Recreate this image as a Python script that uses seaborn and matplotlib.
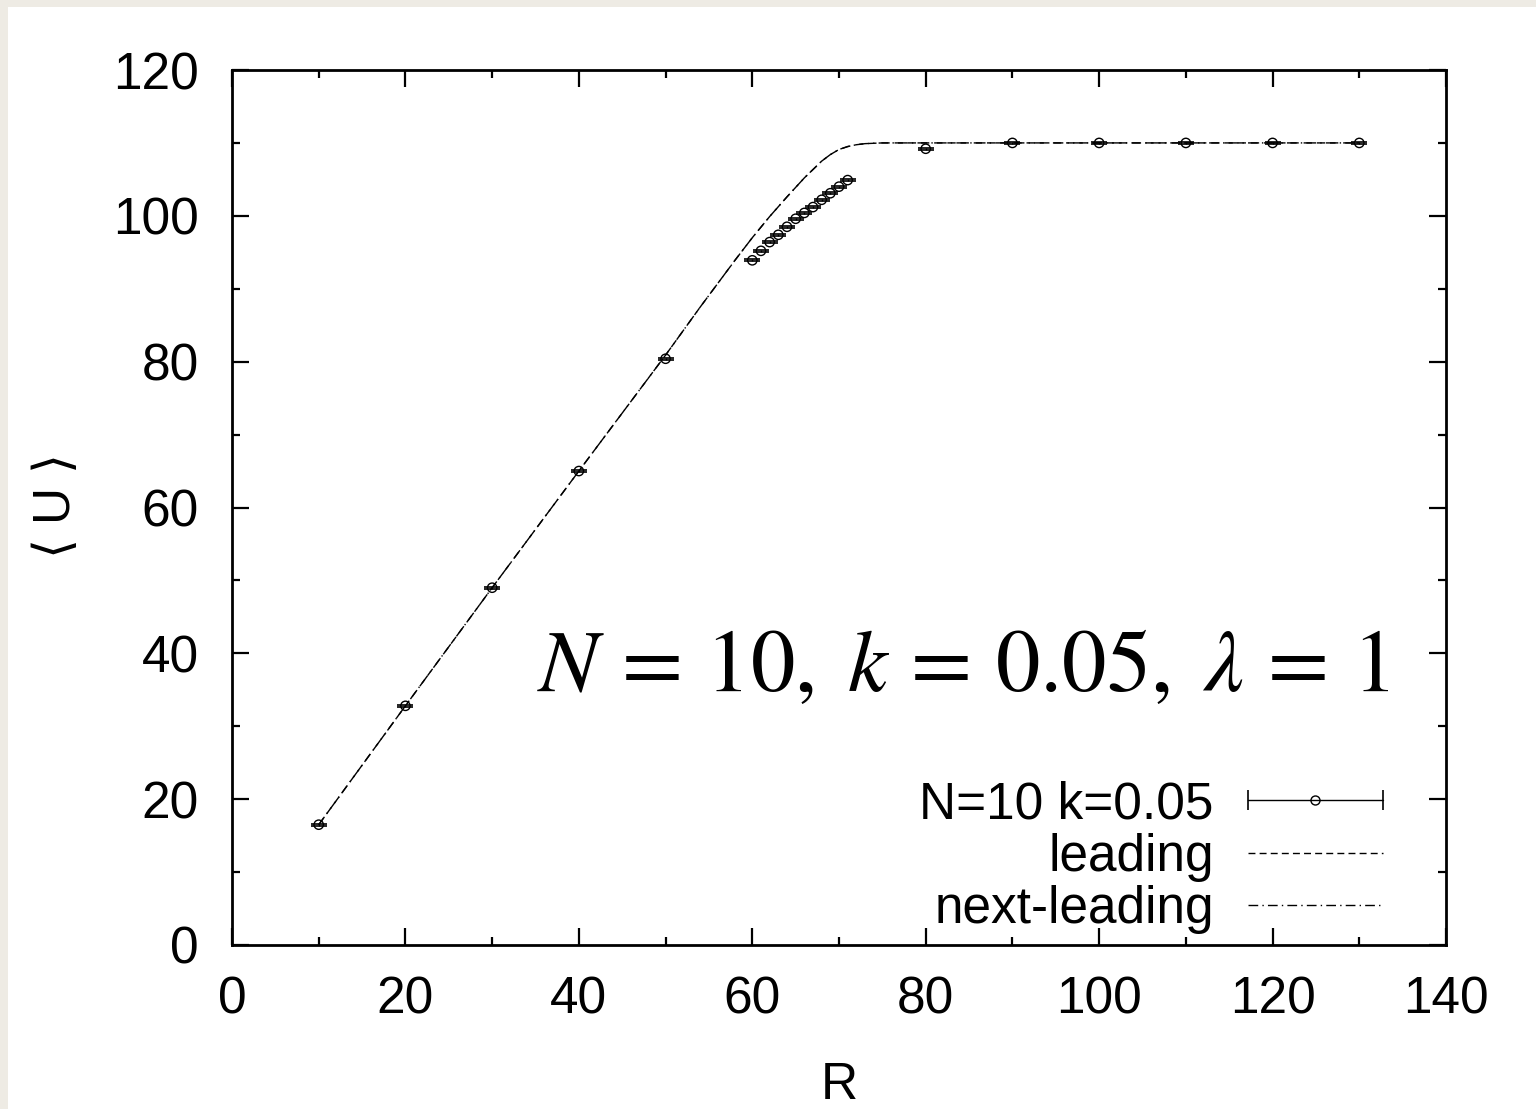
import numpy as np
import pandas as pd
import matplotlib
matplotlib.use("Agg")
import matplotlib.pyplot as plt
from matplotlib.lines import Line2D
from matplotlib.legend_handler import HandlerLine2D, HandlerTuple
from matplotlib.ticker import MultipleLocator
import seaborn as sns

# Monte Carlo data: N=10, k=0.05
R_data = [10, 20, 30, 40, 50, 60, 61, 62, 63, 64, 65, 66, 67, 68, 69, 70, 71,
          80, 90, 100, 110, 120, 130]
U_data = [16.5, 32.8, 49.0, 65.0, 80.4, 93.9, 95.2, 96.4, 97.4, 98.5, 99.6,
          100.4, 101.2, 102.2, 103.1, 104.0, 104.9, 109.2, 110.0, 110.0,
          110.0, 110.0, 110.0]
U_err = [0.15] * len(R_data)

# Analytic curves: leading and next-leading order
R_curve = [10, 20, 30, 40, 50, 54, 58, 60, 62, 64, 66, 68, 69, 70, 71, 72, 73,
           75, 80, 90, 100, 110, 120, 130]
U_leading = [16.5, 32.8, 49.0, 65.0, 80.9, 87.5, 93.9, 97.0, 99.9, 102.6,
             105.2, 107.5, 108.4, 109.1, 109.5, 109.75, 109.9, 110.0, 110.0,
             110.0, 110.0, 110.0, 110.0, 110.0]
U_next = [16.5, 32.8, 49.0, 65.0, 80.9, 87.5, 93.9, 97.0, 99.9, 102.6,
          105.2, 107.5, 108.4, 109.1, 109.5, 109.75, 109.9, 110.0, 110.0,
          110.0, 110.0, 110.0, 110.0, 110.0]

x_ticks = [0, 20, 40, 60, 80, 100, 120, 140]
y_ticks = [0, 20, 40, 60, 80, 100, 120]

sns.set_style("ticks")
plt.rcParams["font.family"] = ["Liberation Sans", "DejaVu Sans"]
plt.rcParams["mathtext.fontset"] = "dejavusans"
for key in ["text.color", "axes.labelcolor", "xtick.color", "ytick.color",
            "axes.edgecolor"]:
    plt.rcParams[key] = "black"

fig = plt.figure(figsize=(15.36, 11.09), dpi=100)
fig.patch.set_facecolor("white")
# paper-like margin strips along the top and left edges
fig.patches.append(plt.Rectangle((0, 0), 8 / 1536, 1, transform=fig.transFigure,
                                 facecolor="#eeebe4", edgecolor="none", zorder=-5))
fig.patches.append(plt.Rectangle((0, 1 - 7 / 1109), 1, 7 / 1109,
                                 transform=fig.transFigure, facecolor="#eeebe4",
                                 edgecolor="none", zorder=-5))

ax = fig.add_axes([232 / 1536, 1 - 945 / 1109, (1446 - 232) / 1536, (945 - 70) / 1109])

curves = pd.DataFrame({"R": R_curve, "lead": U_leading, "next": U_next})
sns.lineplot(data=curves, x="R", y="lead", ax=ax, color="black", lw=1.0,
             linestyle=(0, (6, 3.5)), zorder=2)
sns.lineplot(data=curves, x="R", y="next", ax=ax, color="black", lw=1.0,
             linestyle=(0, (7, 3, 1, 3)), zorder=2)

ax.errorbar(R_data, U_data, yerr=U_err, fmt="none", ecolor="black",
            elinewidth=1.0, capsize=5.5, capthick=1.2, zorder=3)
sns.scatterplot(x=R_data, y=U_data, ax=ax, marker="o", s=45,
                facecolor="none", edgecolor="black", linewidth=1.0, zorder=4)

ax.set_xlim(0, 140)
ax.set_ylim(0, 120)
ax.set_xticks(x_ticks)
ax.set_yticks(y_ticks)
ax.xaxis.set_minor_locator(MultipleLocator(10))
ax.yaxis.set_minor_locator(MultipleLocator(10))
ax.tick_params(which="both", direction="in", top=True, right=True,
               width=1.6, labelsize=37)
ax.tick_params(axis="x", which="major", pad=22)
ax.tick_params(axis="y", which="major", pad=24)
ax.tick_params(which="major", length=12)
ax.tick_params(which="minor", length=6)
for s in ax.spines.values():
    s.set_linewidth(2.0)
    s.set_visible(True)

ax.set_xlabel("R", fontsize=37, labelpad=26)
ax.set_ylabel(r"$\langle$ U $\rangle$", fontsize=37, labelpad=23)

ax.text(0.602, 0.317, r"$N\,=\,10,\;k\,=\,0.05,\;\lambda\,=\,1$",
        transform=ax.transAxes, ha="center", va="center",
        fontsize=64, math_fontfamily="stix")

# legend: labels on the left, right-aligned, samples to the right
cap_line = Line2D([], [], color="black", lw=1.0, marker="|", markersize=14,
                  markeredgewidth=1.2)
dot = Line2D([], [], color="none", marker="o", markersize=6.5,
             markerfacecolor="none", markeredgecolor="black",
             markeredgewidth=1.0)
lead_h = Line2D([], [], color="black", lw=1.0, linestyle=(0, (5, 3)))
next_h = Line2D([], [], color="black", lw=1.0, linestyle=(0, (7, 3, 1, 3)))
leg = ax.legend([(cap_line, dot), lead_h, next_h],
                ["N=10 k=0.05", "leading", "next-leading"],
                handler_map={cap_line: HandlerLine2D(numpoints=2, marker_pad=0),
                             dot: HandlerLine2D(numpoints=1),
                             tuple: HandlerTuple(ndivide=1, pad=0)},
                loc="lower right", bbox_to_anchor=(0.948, 0.013),
                frameon=False, markerfirst=False, fontsize=37,
                handlelength=2.63, handletextpad=0.66, labelspacing=0.06,
                borderaxespad=0.0, borderpad=0.0)

fig.savefig("out.png", dpi=100)
